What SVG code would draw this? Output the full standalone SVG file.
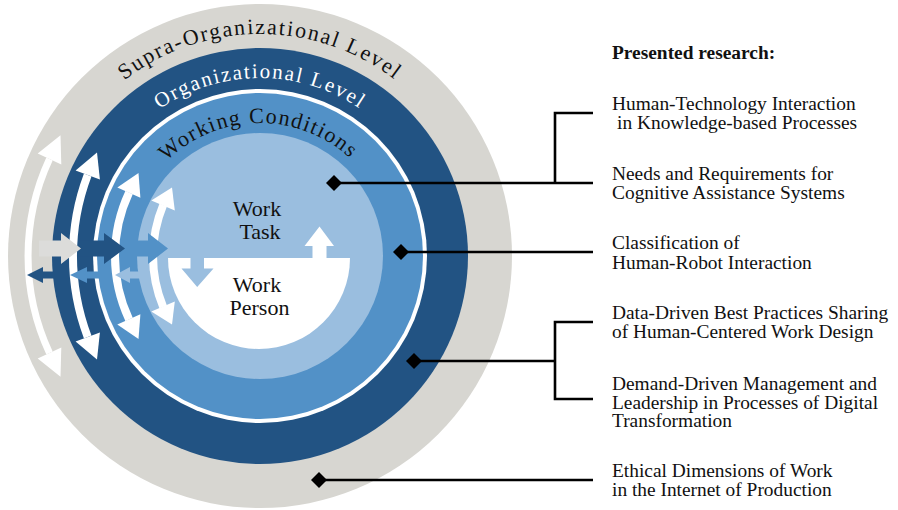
<svg xmlns="http://www.w3.org/2000/svg" xmlns:xlink="http://www.w3.org/1999/xlink" width="898" height="510" viewBox="0 0 898 510">
<style>
.serif{font-family:"Liberation Serif","Times New Roman",serif}
.item{font-family:"Liberation Serif","Times New Roman",serif;font-size:19.4px;fill:#111}
.core{font-family:"Liberation Serif","Times New Roman",serif;font-size:22px;fill:#111;text-anchor:middle}
.stem{fill:none;stroke:#fff;stroke-width:8}
.head{fill:#fff}
.con{fill:none;stroke:#000;stroke-width:2.6}
.dia{fill:#000}
</style>
<defs>
<path id="pSupra" d="M 38 256 A 222 222 0 0 1 482 256"/>
<path id="pOrg" d="M 82 256 A 178 178 0 0 1 438 256"/>
<path id="pWork" d="M 127 256 A 133 133 0 0 1 393 256"/>
</defs>
<g id="ring-supra">
<circle cx="260" cy="256" r="252" fill="#d7d6d1"/>
</g>
<g id="ring-org">
<circle cx="260" cy="256" r="208" fill="#225383"/>
<circle cx="260" cy="256" r="167" fill="#ffffff"/>
</g>
<g id="ring-working">
<circle cx="260" cy="256" r="163" fill="#5291c7"/>
</g>
<g id="core-task">
<circle cx="260" cy="256" r="123" fill="#9abedf"/>
</g>
<g id="core-person">
<path d="M 168 258 A 91 91 0 0 0 350 258 Z" fill="#fff"/>
<polygon points="190.5,257 204,257 204,268.5 213.5,268.5 197.2,287 181.5,268.5 190.5,268.5" fill="#9abedf"/>
<polygon points="312.5,259 326.5,259 326.5,246 334,246 319.5,226.5 304.5,246 312.5,246" fill="#fff"/>
<text class="core" x="257" y="216">Work</text>
<text class="core" x="260" y="239">Task</text>
<text class="core" x="257" y="292">Work</text>
<text class="core" x="259.5" y="315">Person</text>
</g>
<g id="exchange-arrows">
<path class="stem" style="stroke-width:7" d="M 49.5 159 A 230 230 0 0 0 49.5 353"/>
<polygon class="head" points="60.5,135.2 37.7,153.5 61.3,164.5"/>
<polygon class="head" points="60.5,376.8 37.7,358.5 61.3,347.5"/>
<path class="stem" d="M 87.7 175 A 230 230 0 0 0 87.7 337"/>
<polygon class="head" points="97,152.5 75.6,170.4 99.9,179.6"/>
<polygon class="head" points="97,359.5 75.6,341.6 99.9,332.4"/>
<path class="stem" d="M 129.1 192.5 A 150 150 0 0 0 129.1 319.5"/>
<polygon class="head" points="138.5,173 117.3,187.5 140.4,197.8"/>
<polygon class="head" points="138.5,339 117.3,324.5 140.4,314.2"/>
<path class="stem" d="M 163.2 205 A 133 133 0 0 0 163.2 307"/>
<polygon class="head" points="172,187.5 151.3,200.5 174.8,210.5"/>
<polygon class="head" points="172,324.5 151.3,311.5 174.8,301.5"/>
<polygon fill="#5291c7" points="123,240.5 148,240.5 148,233 168,248.5 148,264 148,256.5 123,256.5"/>
<polygon fill="#225383" points="78,240.5 104,240.5 104,233 125,248.5 104,264 104,256.5 78,256.5"/>
<polygon fill="#dcdcda" points="39,240.5 61,240.5 61,233 81,248.5 61,264 61,256.5 39,256.5"/>
<polygon fill="#9abedf" points="115,275 130,267 130,271.5 141,271.5 141,278.5 130,278.5 130,283"/>
<polygon fill="#5291c7" points="70,275 87,267 87,271.5 104,271.5 104,278.5 87,278.5 87,283"/>
<polygon fill="#225383" points="27,275 43,267 43,271.5 56,271.5 56,278.5 43,278.5 43,283"/>
</g>
<g id="ring-labels">
<text class="serif" font-size="22" letter-spacing="1.8" fill="#111"><textPath xlink:href="#pSupra" href="#pSupra" startOffset="50%" text-anchor="middle">Supra-Organizational Level</textPath></text>
<text class="serif" font-size="21" letter-spacing="1.8" fill="#fff"><textPath xlink:href="#pOrg" href="#pOrg" startOffset="50%" text-anchor="middle">Organizational Level</textPath></text>
<text class="serif" font-size="22" letter-spacing="1.4" fill="#111"><textPath xlink:href="#pWork" href="#pWork" startOffset="49.5%" text-anchor="middle">Working Conditions</textPath></text>
</g>
<g id="connectors">
<path class="con" d="M 334 183 H 593"/>
<path class="con" d="M 593 113 H 555 V 183"/>
<path class="con" d="M 401 252 H 593"/>
<path class="con" d="M 593 322 H 555 V 399 H 593"/>
<path class="con" d="M 414 361 H 555"/>
<path class="con" d="M 319 480 H 593"/>
<polygon class="dia" points="334,175 342,183 334,191 326,183"/>
<polygon class="dia" points="401,244 409,252 401,260 393,252"/>
<polygon class="dia" points="414,353 422,361 414,369 406,361"/>
<polygon class="dia" points="319,472 327,480 319,488 311,480"/>
</g>
<g id="research-list">
<text class="item" x="612" y="58.5" font-weight="bold">Presented research:</text>
<text class="item" x="612" y="110">Human-Technology Interaction</text>
<text class="item" x="617" y="129">in Knowledge-based Processes</text>
<text class="item" x="612" y="179.5">Needs and Requirements for</text>
<text class="item" x="612" y="198.5">Cognitive Assistance Systems</text>
<text class="item" x="612" y="249">Classification of</text>
<text class="item" x="612" y="268.5">Human-Robot Interaction</text>
<text class="item" x="612" y="318.5">Data-Driven Best Practices Sharing</text>
<text class="item" x="612" y="337.5">of Human-Centered Work Design</text>
<text class="item" x="612" y="390">Demand-Driven Management and</text>
<text class="item" x="612" y="408.5">Leadership in Processes of Digital</text>
<text class="item" x="612" y="427">Transformation</text>
<text class="item" x="612" y="477">Ethical Dimensions of Work</text>
<text class="item" x="612" y="495.5">in the Internet of Production</text>
</g>
</svg>
